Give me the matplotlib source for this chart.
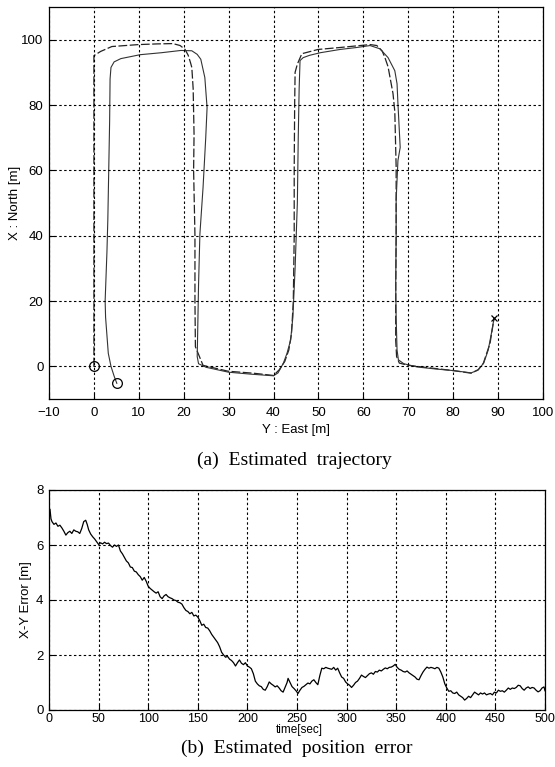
import numpy as np
import matplotlib
matplotlib.use("Agg")
import matplotlib.pyplot as plt

plt.rcParams['font.family'] = ['Liberation Sans', 'DejaVu Sans']

# =============================
# trajectory data (East, North) [m]
# =============================
true_east = [0, 0, 0, 0, 1.5, 4, 10, 14, 17.6, 19.2, 20.3, 21.0, 21.5, 21.8, 22.1,
             22.3, 22.2, 22.5, 22.5, 22.6, 24.3, 29.9, 35.5, 40, 41.3, 42.5, 43.4,
             44.0, 44.4, 44.6, 44.6, 44.7, 44.8, 45.3, 46.3, 49.9, 54.8, 58.5, 61.5,
             63.0, 64.2, 64.8, 65.5, 66.6, 67.0, 67.3, 67.3, 67.2, 67.2, 67.4, 68,
             70, 75, 80, 84, 85.6, 86.7, 88.2, 89.1]
true_north = [0, 30, 70, 95.1, 96.4, 97.9, 98.5, 98.7, 98.8, 98.2, 97.0, 95.2, 93,
              91.5, 85, 71, 60, 40, 20, 6, 0.3, -1.5, -2.1, -2.8, -1.0, 1.5, 5,
              10, 20, 40, 60, 80, 90, 92.5, 95.7, 97, 97.6, 98.1, 98.5, 98.2, 96.5,
              94.5, 91.7, 83.5, 78, 61, 40, 20, 8, 3, 1, 0.3, -0.5, -1.3, -2.1,
              -1.0, 0.9, 7, 14.7]

est_east = [5.1, 4.5, 3.8, 3.2, 2.6, 2.5, 2.9, 3.1, 3.3, 3.5, 3.6, 3.8, 4.5, 6.0,
            10.3, 15, 19.4, 21.8, 23.0, 23.8, 24.7, 25.2, 24.9, 24.3, 23.6, 23.3,
            23.1, 23.0, 23.3, 25, 30, 35, 40, 41, 42.2, 43, 43.8, 44.3, 44.8, 45.3,
            45.5, 45.7, 45.9, 46.6, 48, 50.4, 54.8, 58.5, 61.5, 63.7, 65.5, 67.0,
            67.5, 67.7, 68.2, 67.7, 67.3, 67.3, 67.2, 67.3, 67.5, 67.8, 69, 72, 76,
            80, 84, 85.5, 86.8, 87.8, 88.5, 89.1]
est_north = [-5.2, -3.0, 0, 4, 15, 20, 35, 45, 60, 75, 88, 91.5, 93.2, 94.2, 95.4,
             96.0, 96.7, 96.6, 95.5, 94.0, 88.4, 79.2, 70, 54.7, 40.5, 25, 10, 3,
             0.8, -0.3, -1.8, -2.4, -2.9, -2, 1, 4, 8, 15, 30, 50, 70, 85, 93.6,
             94.5, 95.2, 96, 97, 97.6, 98.2, 97.2, 94.5, 90.5, 86.5, 80.4, 67, 63,
             51, 40, 25, 15, 5, 2, 0.8, -0.2, -0.8, -1.3, -2.0, -1.2, 1, 5, 10, 14.7]

# =============================
# position error data
# =============================
err_time = [0, 1, 2, 3, 5, 7, 9, 11, 13, 15, 17, 19, 21, 23, 25, 27, 29, 31, 33,
            35, 37, 38.5, 40, 42, 44, 46, 48, 50, 52, 54, 56, 58, 60, 62, 64, 66,
            68, 70, 72, 74, 76, 78, 80, 82, 84, 86, 88, 90, 92, 94, 96, 98, 100,
            102, 104, 106, 108, 110, 112, 114, 116, 118, 120, 122, 124, 126, 128,
            130, 132, 134, 136, 138, 140, 142, 144, 146, 148, 150, 152, 154, 156,
            158, 160, 162, 164, 166, 168, 170, 172, 174, 176, 178, 180, 182, 184,
            186, 188, 190, 192, 194, 196, 198, 200, 202, 204, 206, 208, 210, 212,
            214, 216, 218, 220, 222, 224, 226, 228, 230, 232, 234, 236, 238, 240,
            241, 243, 245, 247, 249, 251, 253, 255, 257, 259, 261, 263, 265, 267,
            269, 271, 273, 275, 277, 279, 281, 283, 285, 287, 289, 291, 293, 295,
            297, 299, 301, 303, 305, 307, 309, 311, 313, 315, 317, 319, 321, 323,
            325, 327, 329, 331, 333, 335, 337, 339, 341, 343, 345, 347, 349, 351,
            353, 355, 357, 359, 361, 363, 365, 367, 369, 371, 373, 375, 377, 379,
            381, 383, 385, 387, 389, 391, 393, 395, 397, 399, 401, 403, 405, 407,
            409, 411, 413, 415, 417, 419, 421, 423, 425, 427, 429, 431, 433, 435,
            437, 439, 441, 443, 445, 447, 449, 451, 453, 455, 457, 459, 461, 463,
            465, 467, 469, 471, 473, 475, 477, 479, 481, 483, 485, 487, 489, 491,
            493, 495, 497, 499, 500]
err_xy = [7.05, 7.3, 6.95, 6.85, 6.75, 6.8, 6.68, 6.72, 6.62, 6.5, 6.36, 6.45,
          6.5, 6.42, 6.55, 6.5, 6.48, 6.42, 6.6, 6.85, 6.9, 6.75, 6.55, 6.4, 6.3,
          6.22, 6.12, 6.02, 6.08, 6.04, 6.1, 6.05, 6.07, 5.98, 5.92, 6.0, 5.95,
          6.0, 5.78, 5.68, 5.55, 5.42, 5.35, 5.2, 5.18, 5.05, 5.02, 4.92, 4.85,
          4.72, 4.82, 4.68, 4.5, 4.42, 4.36, 4.3, 4.25, 4.3, 4.12, 4.05, 4.15,
          4.2, 4.12, 4.08, 4.05, 4.0, 3.98, 3.92, 3.9, 3.85, 3.72, 3.62, 3.58,
          3.5, 3.55, 3.42, 3.45, 3.38, 3.25, 3.08, 3.12, 3.0, 2.98, 2.88, 2.75,
          2.65, 2.55, 2.45, 2.3, 2.1, 2.0, 1.92, 1.95, 1.85, 1.8, 1.72, 1.6, 1.72,
          1.82, 1.7, 1.65, 1.72, 1.6, 1.56, 1.5, 1.32, 1.05, 0.95, 0.88, 0.85,
          0.75, 0.72, 0.85, 1.02, 0.95, 0.9, 0.84, 0.88, 0.8, 0.7, 0.65, 0.82,
          1.0, 1.15, 1.0, 0.85, 0.78, 0.7, 0.6, 0.72, 0.82, 0.86, 0.92, 0.98,
          0.95, 1.05, 1.1, 1.0, 0.92, 1.25, 1.52, 1.5, 1.55, 1.52, 1.5, 1.48,
          1.55, 1.45, 1.52, 1.35, 1.2, 1.15, 1.02, 0.95, 0.9, 0.82, 0.9, 1.0,
          1.05, 1.15, 1.27, 1.22, 1.18, 1.25, 1.32, 1.35, 1.3, 1.4, 1.38, 1.45,
          1.42, 1.48, 1.53, 1.5, 1.55, 1.56, 1.6, 1.66, 1.55, 1.48, 1.45, 1.4,
          1.38, 1.42, 1.35, 1.3, 1.25, 1.2, 1.12, 1.1, 1.25, 1.38, 1.48, 1.56,
          1.52, 1.55, 1.53, 1.5, 1.55, 1.52, 1.38, 1.2, 0.95, 0.8, 0.68, 0.7,
          0.62, 0.6, 0.65, 0.55, 0.5, 0.45, 0.36, 0.42, 0.5, 0.45, 0.55, 0.65,
          0.6, 0.55, 0.62, 0.58, 0.62, 0.55, 0.58, 0.6, 0.55, 0.65, 0.62, 0.72,
          0.68, 0.7, 0.65, 0.72, 0.8, 0.75, 0.8, 0.78, 0.82, 0.9, 0.88, 0.78,
          0.72, 0.8, 0.84, 0.78, 0.82, 0.8, 0.72, 0.66, 0.7, 0.8, 0.84, 0.7]

# =============================
# figure
# =============================
fig = plt.figure(figsize=(5.55, 7.67), dpi=100)
grid_kw = dict(color='black', linestyle=(0, (2.2, 2.2)), linewidth=0.8)

# (a) trajectory
ax1 = fig.add_axes([49 / 555, 1 - 399 / 767, 494 / 555, 392 / 767])
ax1.plot(true_east, true_north, color='#222222', linewidth=0.9,
         linestyle=(0, (7, 2)))
ax1.plot(est_east, est_north, color='#333333', linewidth=0.8)
ax1.plot(true_east[0], true_north[0], 'o', mfc='none', mec='black', ms=7, mew=0.9)
ax1.plot(est_east[0], est_north[0], 'o', mfc='none', mec='black', ms=7, mew=0.9)
ax1.plot(est_east[-1], est_north[-1], 'x', color='black', ms=5, mew=0.9)
ax1.set_xlim(-10, 100)
ax1.set_ylim(-10, 110)
ax1.set_xticks(np.arange(-10, 101, 10))
ax1.set_yticks(np.arange(0, 101, 20))
ax1.grid(True, **grid_kw)
ax1.tick_params(direction='in', length=4, width=0.8, labelsize=9.5,
                top=False, right=False)
ax1.tick_params(axis='x', pad=6)
ax1.tick_params(axis='y', pad=4)

# (b) position error
ax2 = fig.add_axes([49 / 555, 1 - 710 / 767, 496 / 555, 220 / 767])
ax2.plot(err_time, err_xy, color='black', linewidth=0.9)
ax2.set_xlim(0, 500)
ax2.set_ylim(0, 8)
ax2.set_xticks(np.arange(0, 501, 50))
ax2.set_yticks(np.arange(0, 9, 2))
ax2.grid(True, **grid_kw)
ax2.tick_params(direction='in', length=4, width=0.8, labelsize=9.5,
                top=False, right=False)
ax2.tick_params(axis='x', pad=2, labelsize=9)
ax2.tick_params(axis='y', pad=4)

for ax in (ax1, ax2):
    for s in ax.spines.values():
        s.set_linewidth(0.9)
    ax.set_axisbelow(False)

# labels
fig.text(296 / 555, 1 - 430 / 767, "Y : East [m]", ha='center', va='center',
         fontsize=9.5)
fig.text(15 / 555, 1 - 203 / 767, "X : North [m]", ha='center', va='center',
         rotation=90, fontsize=9.5)
fig.text(26 / 555, 1 - 600 / 767, "X-Y Error [m]", ha='center', va='center',
         rotation=90, fontsize=9.5)
fig.text(299 / 555, 1 - 730 / 767, "time[sec]", ha='center', va='center',
         fontsize=8.5)

serif = ['Liberation Serif', 'DejaVu Serif']
fig.text(294 / 555, 1 - 460 / 767, "(a)  Estimated  trajectory", ha='center',
         va='center', fontsize=14, family=serif)
fig.text(297 / 555, 1 - 748 / 767, "(b)  Estimated  position  error",
         ha='center', va='center', fontsize=14, family=serif)

plt.savefig("out.png", dpi=100)
